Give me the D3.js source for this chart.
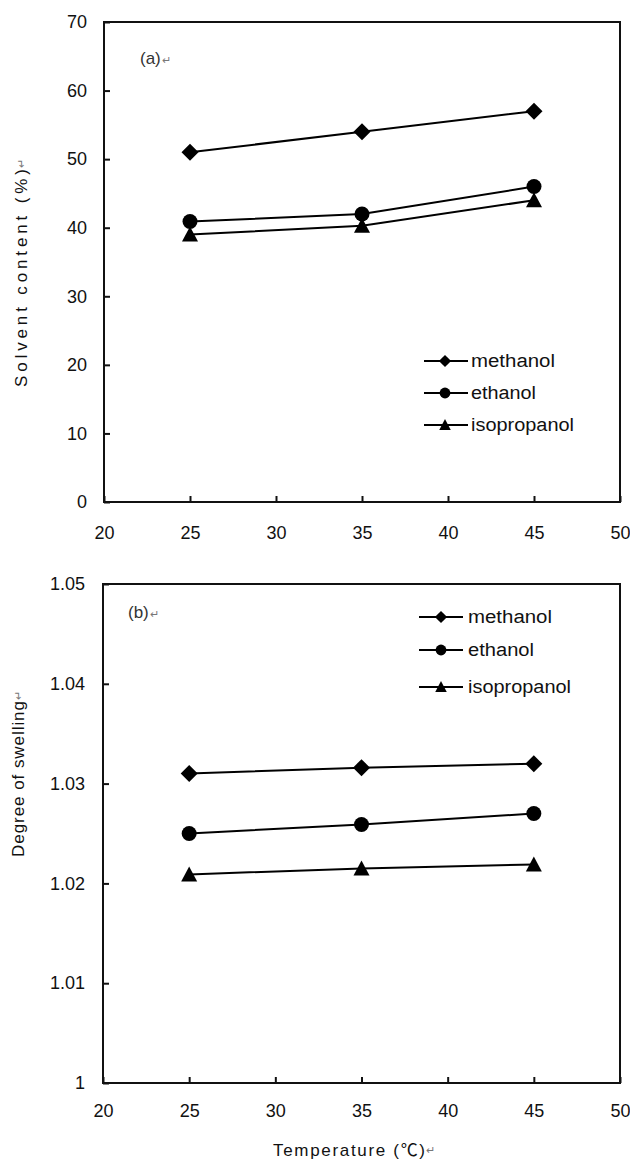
<!DOCTYPE html>
<html>
<head>
<meta charset="utf-8">
<script src="https://cdn.jsdelivr.net/npm/d3@7"></script>
<style>
  html, body { margin: 0; padding: 0; background: #fff; }
  svg { display: block; }
  text { font-family: "Liberation Sans", Arial, "Noto Sans CJK SC", sans-serif; fill: #111; }
</style>
</head>
<body>
<svg id="chart" width="630" height="1173"></svg>
<script>
// ---------- data ----------
const temperatures = [25, 35, 45];
const seriesNames = ["methanol", "ethanol", "isopropanol"];
const seriesSymbols = ["diamond", "circle", "triangle"];

const solventMethanol = [51.0, 54.0, 57.0];
const solventEthanol = [40.9, 42.0, 46.0];
const solventIsopropanol = [39.0, 40.3, 44.0];

const swellMethanol = [1.0310, 1.0316, 1.0320];
const swellEthanol = [1.0250, 1.0259, 1.0270];
const swellIsopropanol = [1.0209, 1.0215, 1.0219];

const xTicks = [20, 25, 30, 35, 40, 45, 50];
const yTicksA = [0, 10, 20, 30, 40, 50, 60, 70];
const yTicksB = [1, 1.01, 1.02, 1.03, 1.04, 1.05];
const yTickLabelsB = ["1", "1.01", "1.02", "1.03", "1.04", "1.05"];

const labelA = "(a)";
const labelB = "(b)";
const yTitleA = "Solvent content (%)";
const yTitleB = "Degree of swelling";
const xTitle = "Temperature (℃)";
const returnMark = "↵";

// ---------- drawing ----------
const svg = d3.select("#chart");

function symbolPath(type, s) {
  if (type === "diamond") {
    const r = 8.5 * s;
    return `M0,${-r}L${r},0L0,${r}L${-r},0Z`;
  }
  if (type === "circle") {
    const r = 7.5 * s;
    const p = d3.path(); p.arc(0, 0, r, 0, 2 * Math.PI); return p.toString();
  }
  const w = 8 * s, h = 14 * s;
  return `M0,${-h / 2 - 1}L${w},${h / 2}L${-w},${h / 2}Z`;
}

function drawPanel(cfg) {
  const g = svg.append("g");
  const x = d3.scaleLinear().domain([20, 50]).range([cfg.x0, cfg.x1]);
  const y = d3.scaleLinear().domain(cfg.yDomain).range([cfg.y1, cfg.y0]);

  g.append("rect")
    .attr("x", cfg.x0).attr("y", cfg.y0)
    .attr("width", cfg.x1 - cfg.x0).attr("height", cfg.y1 - cfg.y0)
    .attr("fill", "none").attr("stroke", "#111").attr("stroke-width", 2);

  const ya = g.append("g").attr("transform", `translate(${cfg.x0},0)`)
    .call(d3.axisLeft(y).tickValues(cfg.yTicks).tickSize(-6).tickPadding(cfg.yPad)
      .tickFormat((d, i) => cfg.yLabels ? cfg.yLabels[i] : d3.format("d")(d)));
  ya.select(".domain").remove();
  ya.selectAll("line").attr("stroke", "#111").attr("stroke-width", 2);
  ya.selectAll("text").attr("font-size", 18).attr("fill", "#111")
    .style("font-family", '"Liberation Sans", Arial, sans-serif');

  const xa = g.append("g").attr("transform", `translate(0,${cfg.y1})`)
    .call(d3.axisBottom(x).tickValues(xTicks).tickSize(-6).tickPadding(cfg.xPad).tickFormat(d3.format("d")));
  xa.select(".domain").remove();
  xa.selectAll("line").attr("stroke", "#111").attr("stroke-width", 2);
  xa.selectAll("text").attr("font-size", 18).attr("fill", "#111")
    .style("font-family", '"Liberation Sans", Arial, sans-serif');

  const line = d3.line().x((d, i) => x(temperatures[i])).y(d => y(d));
  cfg.series.forEach((vals, si) => {
    g.append("path").datum(vals)
      .attr("d", line).attr("fill", "none")
      .attr("stroke", "#000").attr("stroke-width", 2);
    g.selectAll(null).data(vals).enter().append("path")
      .attr("transform", (d, i) => `translate(${x(temperatures[i])},${y(d)})`)
      .attr("d", symbolPath(seriesSymbols[si], 1))
      .attr("fill", "#000");
  });

  seriesNames.forEach((name, i) => {
    const ly = cfg.legY[i];
    g.append("line").attr("x1", cfg.legX0).attr("x2", cfg.legX1)
      .attr("y1", ly).attr("y2", ly).attr("stroke", "#000").attr("stroke-width", 2);
    g.append("path").attr("transform", `translate(${cfg.legM},${ly})`)
      .attr("d", symbolPath(seriesSymbols[i], 0.72)).attr("fill", "#000");
    g.append("text").attr("x", cfg.legT).attr("y", ly).attr("dy", "0.35em")
      .attr("font-size", 18).attr("textLength", cfg.legW[i]).attr("lengthAdjust", "spacingAndGlyphs")
      .text(name);
  });

  const pl = g.append("text").attr("x", cfg.plX).attr("y", cfg.plY).attr("dy", "0.35em")
    .attr("font-size", 17).style("fill", "#333");
  pl.append("tspan").text(cfg.panelLabel);
  pl.append("tspan").attr("font-size", 11).attr("dx", 1).style("fill", "#777").text(returnMark);

  const yg = g.append("g").attr("transform", `translate(${cfg.ytX},${cfg.ytY}) rotate(-90)`);
  yg.append("text").attr("x", 0).attr("y", 0)
    .attr("text-anchor", "middle").attr("font-size", 17)
    .attr("textLength", cfg.ytLen).attr("lengthAdjust", "spacing")
    .text(cfg.yTitle);
  yg.append("text").attr("x", cfg.ytLen / 2 + 1).attr("y", -2)
    .attr("font-size", 11).style("fill", "#777").text(returnMark);
  return { x, y };
}

drawPanel({
  x0: 104, x1: 620, y0: 22, y1: 502,
  yDomain: [0, 70], yTicks: yTicksA, yLabels: null,
  yPad: 17, xPad: 24,
  series: [solventMethanol, solventEthanol, solventIsopropanol],
  legY: [361, 393, 425], legX0: 424, legX1: 468, legM: 445, legT: 471,
  legW: [84, 65, 103],
  panelLabel: labelA, plX: 140, plY: 58,
  yTitle: yTitleA, ytX: 27, ytY: 278, ytLen: 218
});

drawPanel({
  x0: 103, x1: 620, y0: 584, y1: 1083,
  yDomain: [1, 1.05], yTicks: yTicksB, yLabels: yTickLabelsB,
  yPad: 18, xPad: 21,
  series: [swellMethanol, swellEthanol, swellIsopropanol],
  legY: [617, 650, 687], legX0: 419, legX1: 463, legM: 441, legT: 468,
  legW: [84, 66, 103],
  panelLabel: labelB, plX: 128, plY: 612,
  yTitle: yTitleB, ytX: 24, ytY: 779, ytLen: 156
});

const xtCenter = 349, xtLen = 152;
svg.append("text").attr("x", xtCenter).attr("y", 1156).attr("text-anchor", "middle").attr("font-size", 17)
  .attr("textLength", xtLen).attr("lengthAdjust", "spacing").text(xTitle);
svg.append("text").attr("x", xtCenter + xtLen / 2 + 1).attr("y", 1154)
  .attr("font-size", 11).style("fill", "#777").text(returnMark);
</script>
</body>
</html>
